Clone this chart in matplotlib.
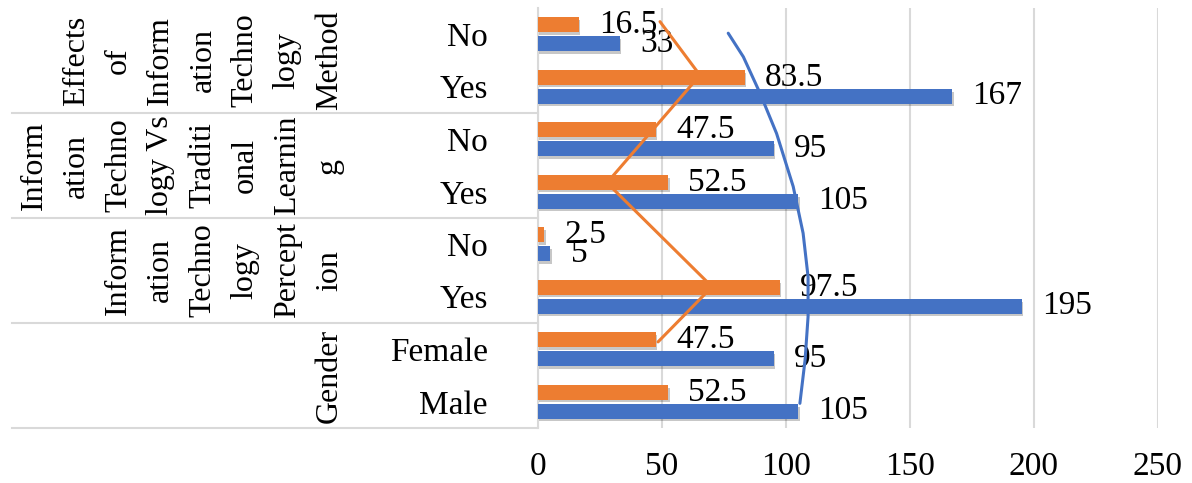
import matplotlib
matplotlib.use("Agg")
import matplotlib.pyplot as plt
import matplotlib.patheffects as pe
from matplotlib.transforms import blended_transform_factory

# ---- data ----
categories = ["Male", "Female", "Yes", "No", "Yes", "No", "Yes", "No"]
frequency = [105, 95, 195, 5, 105, 95, 167, 33]
percent = [52.5, 47.5, 97.5, 2.5, 52.5, 47.5, 83.5, 16.5]
group_labels = [
    "Gender",
    "Inform\nation\nTechno\nlogy\nPercept\nion",
    "Inform\nation\nTechno\nlogy Vs\nTraditi\nonal\nLearnin\ng",
    "Effects\nof\nInform\nation\nTechno\nlogy\nMethod",
]
group_sizes = [2, 2, 2, 2]
x_ticks = [0, 50, 100, 150, 200, 250]

# overlay strokes drawn on the chart
orange_line_x = [49.2, 65.3, 27.8, 70.2, 48.4]
orange_line_y = [7.24, 6.22, 4.17, 2.19, 1.14]
blue_curve_x = [76.7, 82.8, 89.5, 96.2, 102.9, 106.9, 108.9, 108.9, 107.7, 105.6]
blue_curve_y = [7.02, 6.57, 5.88, 5.11, 4.10, 3.21, 2.38, 1.62, 0.80, -0.03]

BLUE = "#4472C4"
ORANGE = "#ED7D31"
GRID = "#d9d9d9"
FONT = "Liberation Serif"
FS = 24
FS_GROUP = 23

plt.rcParams["font.family"] = [FONT, "DejaVu Serif"]

W, H = 1192, 483
fig = plt.figure(figsize=(W / 100, H / 100), dpi=100)
ax = fig.add_axes([538 / W, 1 - 428 / H, (1158 - 538) / W, (428 - 8) / H])

n = len(categories)
ys = list(range(n))
bh = 0.28
off = 0.18
shadow = [pe.SimplePatchShadow(offset=(1.0, -2.0), shadow_rgbFace="#000000", alpha=0.22), pe.Normal()]

bars_b = ax.barh([y - off for y in ys], frequency, height=bh, color=BLUE, zorder=3)
bars_o = ax.barh([y + off for y in ys], percent, height=bh, color=ORANGE, zorder=3)
for b in list(bars_b) + list(bars_o):
    b.set_path_effects(shadow)

for y, v in zip(ys, frequency):
    ax.annotate(f"{v:g}", xy=(v, y - off), xytext=(14.5, 0), textcoords="offset points",
                ha="left", va="center", fontsize=FS, zorder=5)
for y, v in zip(ys, percent):
    ax.annotate(f"{v:g}", xy=(v, y + off), xytext=(14.5, 0), textcoords="offset points",
                ha="left", va="center", fontsize=FS, zorder=5)

ax.plot(orange_line_x, orange_line_y, color=ORANGE, lw=2.2, zorder=6, solid_capstyle="round")
ax.plot(blue_curve_x, blue_curve_y, color=BLUE, lw=2.2, zorder=6, solid_capstyle="round",
        solid_joinstyle="round")

ax.set_xlim(0, 250)
ax.set_ylim(-0.5, n - 0.5)
ax.set_xticks(x_ticks)
ax.set_xticklabels([str(t) for t in x_ticks], fontsize=FS)
ax.set_yticks(ys)
ax.set_yticklabels(categories, fontsize=FS)
ax.tick_params(axis="y", length=0, pad=36)
ax.tick_params(axis="x", length=0, pad=17)
ax.grid(axis="x", color=GRID, lw=1.5, zorder=0)
ax.set_axisbelow(True)
for s in ["top", "right", "bottom"]:
    ax.spines[s].set_visible(False)
ax.spines["left"].set_color(GRID)
ax.spines["left"].set_linewidth(1.5)

# group separators and labels
tr = blended_transform_factory(ax.transAxes, ax.transData)
x_left = (12 - 538) / 620
start = 0
bounds = [-0.5]
for g, size in zip(group_labels, group_sizes):
    end = start + size
    center = (start + end - 1) / 2
    ax.text((344 - 538) / 620, center, g, transform=tr, rotation=90, ha="right", va="center",
            multialignment="center", fontsize=FS_GROUP, linespacing=1.6)
    bounds.append(end - 0.5)
    start = end
for b in bounds[:-1]:
    ax.plot([x_left, 0], [b, b], transform=tr, color=GRID, lw=1.5, clip_on=False, zorder=1)

fig.savefig("out.png", dpi=100)
